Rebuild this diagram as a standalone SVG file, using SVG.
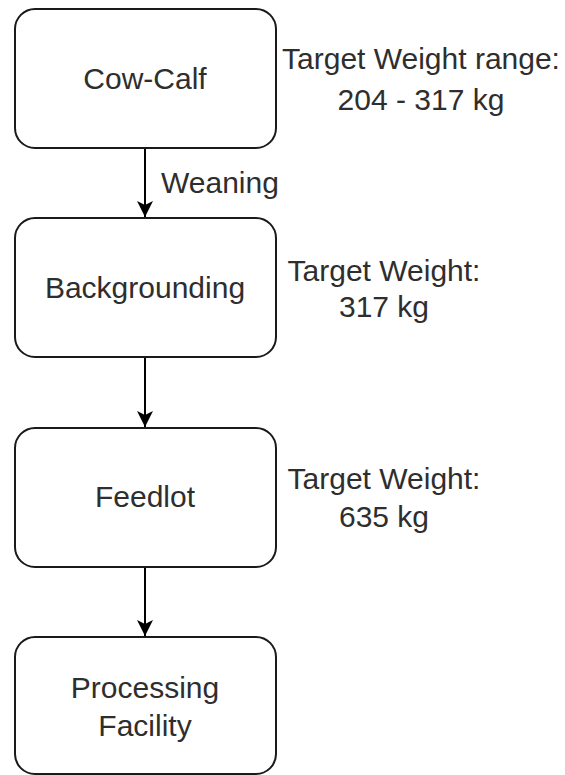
<svg xmlns="http://www.w3.org/2000/svg" width="565" height="775" viewBox="0 0 565 775">
  <style>
    .box { fill: #ffffff; stroke: #1a1a1a; stroke-width: 2; }
    .lbl { font-family: "Liberation Sans", Arial, sans-serif; font-size: 30px; fill: #2e2e2e; }
    .mid { text-anchor: middle; }
    .edge { fill: none; stroke: #000000; stroke-width: 2; }
  </style>
  <defs>
    <marker id="arrow" viewBox="0 0 16 18" refX="16" refY="9" markerWidth="16" markerHeight="18" markerUnits="userSpaceOnUse" orient="auto">
      <path d="M0,1 L16,9 L0,17 L4,9 Z" fill="#000000"/>
    </marker>
  </defs>
  <rect width="565" height="775" fill="#ffffff"/>

  <g id="connectors">
    <line class="edge" x1="145" y1="148" x2="145" y2="217" marker-end="url(#arrow)"/>
    <line class="edge" x1="145" y1="357" x2="145" y2="427" marker-end="url(#arrow)"/>
    <line class="edge" x1="145" y1="567" x2="145" y2="636" marker-end="url(#arrow)"/>
    <text class="lbl" x="161" y="193">Weaning</text>
  </g>

  <g id="cow-calf">
    <rect class="box" x="15" y="9" width="261" height="139" rx="20" ry="20"/>
    <text class="lbl mid" x="145" y="89">Cow-Calf</text>
  </g>

  <g id="backgrounding">
    <rect class="box" x="15" y="218" width="261" height="139" rx="20" ry="20"/>
    <text class="lbl mid" x="145" y="298">Backgrounding</text>
  </g>

  <g id="feedlot">
    <rect class="box" x="15" y="428" width="261" height="139" rx="20" ry="20"/>
    <text class="lbl mid" x="145" y="507">Feedlot</text>
  </g>

  <g id="processing-facility">
    <rect class="box" x="15" y="637" width="261" height="137" rx="20" ry="20"/>
    <text class="lbl mid" x="145" y="698">Processing</text>
    <text class="lbl mid" x="145" y="736">Facility</text>
  </g>

  <g id="note-cow-calf">
    <text class="lbl mid" x="421" y="69">Target Weight range:</text>
    <text class="lbl mid" x="421" y="110">204 - 317 kg</text>
  </g>

  <g id="note-backgrounding">
    <text class="lbl mid" x="384" y="281">Target Weight:</text>
    <text class="lbl mid" x="384" y="317">317 kg</text>
  </g>

  <g id="note-feedlot">
    <text class="lbl mid" x="384" y="489">Target Weight:</text>
    <text class="lbl mid" x="384" y="527">635 kg</text>
  </g>
</svg>
